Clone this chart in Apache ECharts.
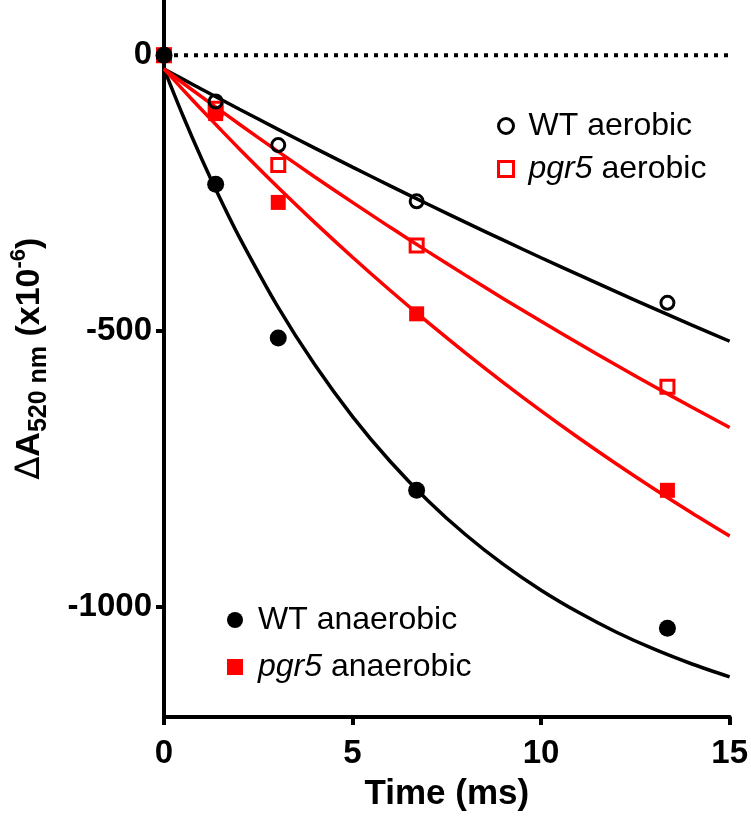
<!DOCTYPE html>
<html>
<head>
<meta charset="utf-8">
<script src="https://cdn.jsdelivr.net/npm/echarts@6/dist/echarts.min.js"></script>
<style>html,body{margin:0;padding:0;background:#fff}#c{width:751px;height:817px}</style>
</head>
<body>
<div id="c"></div>
<script>
// measured points
const times = [0, 1.37, 3.03, 6.7, 13.35];
const wtAerobic = [0, -84, -163, -265, -449];
const pgr5Aerobic = [0, -97, -199, -345, -601];
const wtAnaerobic = [0, -234, -513, -789, -1039];
const pgr5Anaerobic = [0, -106, -267, -469, -789];

// fitted curves
const fitTimes = [0, 0.5, 1, 1.5, 2, 3, 4, 5, 6, 7, 8, 9, 10, 11, 12, 13, 14, 15];
const wtAerobicFit = [-25, -43.5, -61.8, -79.9, -98.0, -133.6, -168.6, -203.1, -237.0, -270.4, -303.2, -335.5, -367.3, -398.5, -429.3, -459.6, -489.4, -518.7];
const pgr5AerobicFit = [-25, -50.5, -75.7, -100.6, -125.2, -173.5, -220.8, -266.9, -312.2, -356.2, -399.3, -441.5, -482.6, -522.9, -562.3, -600.7, -638.3, -675.0];
const wtAnaerobicFit = [-25, -109.5, -188.3, -261.7, -330.3, -454.0, -561.5, -655.3, -736.8, -807.7, -869.6, -923.3, -970.1, -1010.7, -1046.3, -1077.1, -1103.9, -1127.4];
const pgr5AnaerobicFit = [-25, -62.4, -99.0, -134.8, -170.0, -238.1, -303.6, -366.4, -426.7, -484.6, -540.2, -593.6, -644.9, -694.1, -741.3, -786.6, -830.2, -872.0];

const yTicks = [0, -500, -1000];
const xTicks = [0, 5, 10, 15];
const baseline = [[0, 0], [15, 0]];

const zip = (xs, ys) => xs.map((x, i) => [x, ys[i]]);
const FONT = '"Liberation Sans", Arial, sans-serif';
const RED = '#ff0000';

const chart = echarts.init(document.getElementById('c'));
const legendFmt = name => name.indexOf('pgr5') === 0
  ? '{i|pgr5}{n|' + name.slice(4) + '}'
  : '{f|' + name + '}';
const LFS = 32;
const legendText = {
  fontSize: LFS, fontFamily: FONT, color: '#000',
  rich: {
    i: {fontStyle: 'italic', fontSize: LFS, fontFamily: FONT, color: '#000', padding: [0, 0, 0, 10]},
    f: {fontSize: LFS, fontFamily: FONT, color: '#000', padding: [0, 0, 0, 10]},
    n: {fontSize: LFS, fontFamily: FONT, color: '#000'}
  }
};

function lineSeries(data, color) {
  return {type: 'line', data: data, smooth: 0.3, symbol: 'none', silent: true,
    lineStyle: {color: color, width: 3.5}, z: 2};
}
const axisFont = {fontSize: 33, fontWeight: 'bold', fontFamily: FONT, color: '#000'};

chart.setOption({
  animation: false,
  backgroundColor: '#fff',
  grid: {left: 157, right: 21, top: 0, bottom: 91, containLabel: false},
  xAxis: {
    type: 'value', min: 0, max: 15, interval: 5,
    name: 'Time (ms)', nameLocation: 'middle', nameGap: 60,
    nameTextStyle: {fontSize: 35, fontWeight: 'bold', fontFamily: FONT, color: '#000'},
    axisLine: {show: true, onZero: false, lineStyle: {color: '#000', width: 4}},
    axisTick: {show: true, length: 8, lineStyle: {color: '#000', width: 4}, customValues: xTicks},
    axisLabel: Object.assign({margin: 20, customValues: xTicks, formatter: v => String(v)}, axisFont),
    splitLine: {show: false}
  },
  yAxis: {
    type: 'value', min: -1200, max: 100,
    name: '{d|∆}{b|A}{s|520 nm}{b| (x10}{p|-6}{b|)}',
    nameLocation: 'middle', nameRotate: 90, nameGap: 112,
    nameTextStyle: {
      fontFamily: FONT, color: '#000',
      rich: {
        d: {fontSize: 34, fontWeight: 'normal', fontFamily: 'DejaVu Sans', color: '#000', lineHeight: 44},
        b: {fontSize: 34, fontWeight: 'bold', fontFamily: FONT, color: '#000', lineHeight: 44},
        s: {fontSize: 25, fontWeight: 'bold', fontFamily: FONT, color: '#000', lineHeight: 26, verticalAlign: 'bottom'},
        p: {fontSize: 22, fontWeight: 'bold', fontFamily: FONT, color: '#000', lineHeight: 24, verticalAlign: 'top'}
      }
    },
    axisLine: {show: true, onZero: false, lineStyle: {color: '#000', width: 4}},
    axisTick: {show: true, length: 8, lineStyle: {color: '#000', width: 4}, customValues: yTicks},
    axisLabel: Object.assign({margin: 12, customValues: yTicks, formatter: v => String(v)}, axisFont),
    splitLine: {show: false}
  },
  legend: [
    {
      data: [
        {name: 'WT aerobic', itemStyle: {borderWidth: 3, borderColor: '#000', color: 'rgba(255,255,255,0)'}},
        {name: 'pgr5 aerobic', itemStyle: {borderWidth: 3, borderColor: RED, color: 'rgba(255,255,255,0)'}}
      ],
      orient: 'vertical', left: 492, top: 105,
      itemWidth: 15, itemHeight: 15, itemGap: 11, selectedMode: false,
      formatter: legendFmt, textStyle: legendText
    },
    {
      data: ['WT anaerobic', 'pgr5 anaerobic'], orient: 'vertical', left: 222, top: 599,
      itemWidth: 16, itemHeight: 16, itemGap: 15, selectedMode: false,
      formatter: legendFmt, textStyle: legendText
    }
  ],
  series: [
    {type: 'line', data: baseline, symbol: 'none', silent: true, z: 1,
      lineStyle: {color: '#000', width: 4, type: [4, 6]}},
    Object.assign(lineSeries(zip(fitTimes, wtAerobicFit), '#000'), {name: 'fitWTa'}),
    Object.assign(lineSeries(zip(fitTimes, wtAnaerobicFit), '#000'), {name: 'fitWTan'}),
    Object.assign(lineSeries(zip(fitTimes, pgr5AerobicFit), RED), {name: 'fitPa'}),
    Object.assign(lineSeries(zip(fitTimes, pgr5AnaerobicFit), RED), {name: 'fitPan'}),
    {name: 'pgr5 anaerobic', type: 'scatter', data: zip(times, pgr5Anaerobic), symbol: 'rect', symbolSize: 15,
      itemStyle: {color: RED, opacity: 1}, z: 5},
    {name: 'pgr5 aerobic', type: 'scatter', data: zip(times, pgr5Aerobic), symbol: 'rect', symbolSize: 13,
      itemStyle: {color: 'rgba(255,255,255,0)', borderColor: RED, borderWidth: 3, opacity: 1}, z: 5},
    {name: 'WT aerobic', type: 'scatter', data: zip(times, wtAerobic), symbol: 'circle', symbolSize: 13,
      itemStyle: {color: 'rgba(255,255,255,0)', borderColor: '#000', borderWidth: 3, opacity: 1}, z: 5},
    {name: 'WT anaerobic', type: 'scatter', data: zip(times, wtAnaerobic), symbol: 'circle', symbolSize: 17,
      itemStyle: {color: '#000', opacity: 1}, z: 6}
  ]
});
</script>
</body>
</html>
